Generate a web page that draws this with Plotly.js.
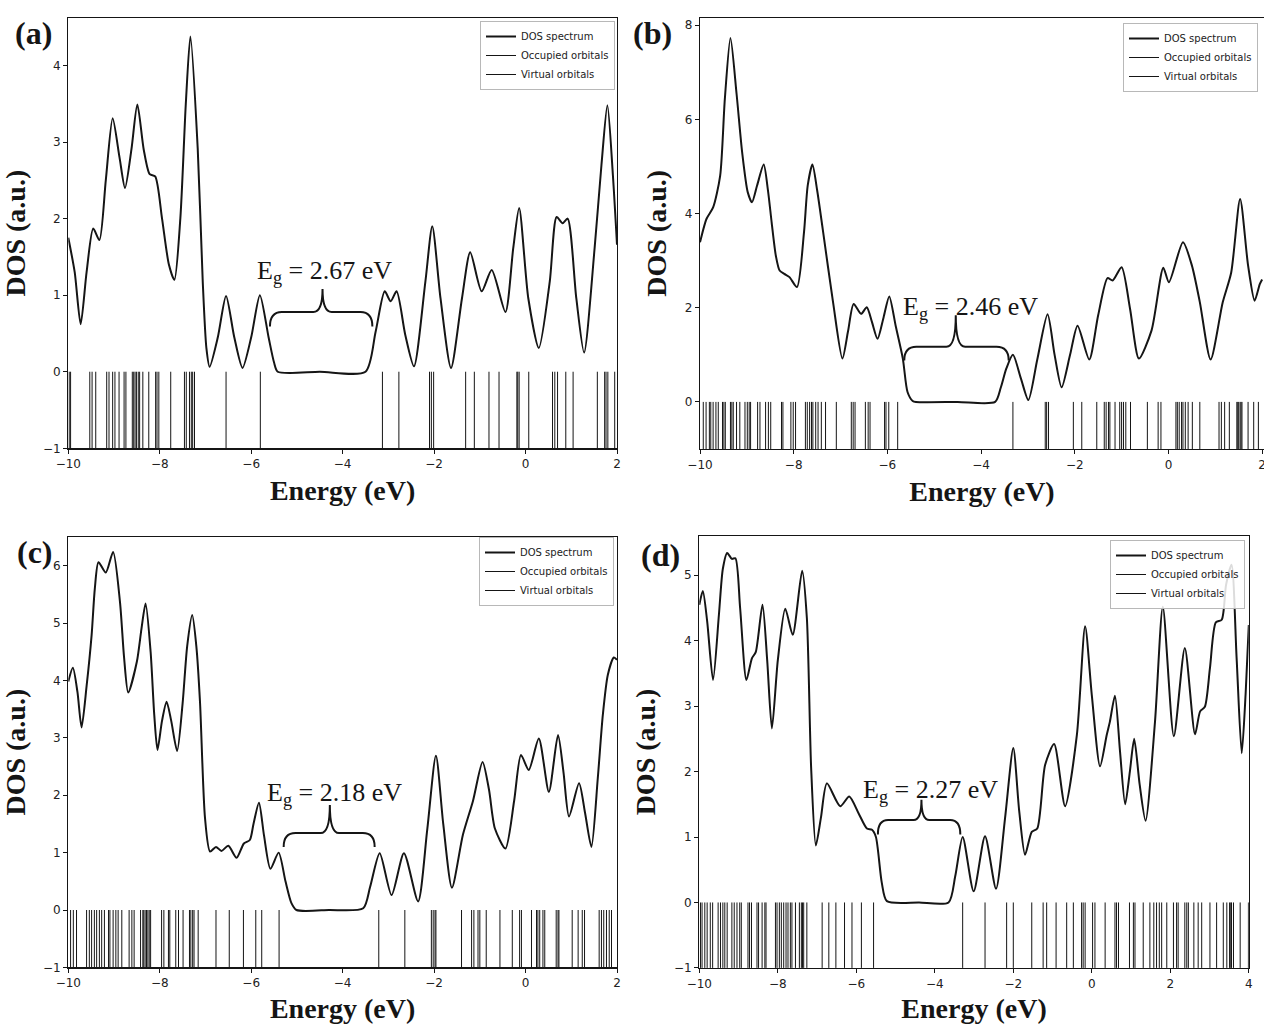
<!DOCTYPE html>
<html><head><meta charset="utf-8">
<script src="https://cdn.plot.ly/plotly-3.0.1.min.js"></script>
<style>html,body{margin:0;padding:0;background:#fff}#chart{width:1264px;height:1024px}</style>
</head><body><div id="chart"></div>
<script>
// ---------- DATA ----------
// Panel (a)
const dosA_E = [-10,-9.86,-9.73,-9.6,-9.455,-9.32,-9.18,-9.03,-8.88,-8.76,-8.62,-8.49,-8.35,-8.22,-8.10,-7.95,-7.80,-7.68,-7.55,-7.43,-7.33,-7.17,-7.06,-6.98,-6.91,-6.73,-6.55,-6.37,-6.19,-6.0,-5.81,-5.62,-5.5,-5.42,-4.5,-3.5,-3.28,-3.08,-2.95,-2.82,-2.63,-2.44,-2.19,-2.04,-1.86,-1.63,-1.39,-1.21,-0.96,-0.74,-0.44,-0.27,-0.14,0.06,0.29,0.53,0.68,0.81,0.92,1.11,1.28,1.51,1.66,1.79,1.91,2.0];
const dosA_D = [1.75,1.3,0.62,1.3,1.87,1.72,2.5,3.31,2.8,2.40,2.9,3.49,2.9,2.58,2.55,2.0,1.4,1.20,2.0,3.5,4.38,2.92,1.18,0.31,0.065,0.45,0.99,0.45,0.05,0.45,1.0,0.45,0.12,0.0,0.0,0.0,0.52,1.05,0.92,1.05,0.48,0.07,1.18,1.90,0.96,0.05,0.96,1.56,1.05,1.33,0.78,1.61,2.14,0.96,0.31,1.18,2.02,1.94,2.0,0.96,0.25,1.61,2.70,3.48,2.57,1.66];
const occA = [-9.98,-9.95,-9.53,-9.48,-9.40,-9.16,-9.11,-9.03,-8.98,-8.89,-8.78,-8.74,-8.60,-8.57,-8.54,-8.51,-8.47,-8.44,-8.37,-8.24,-8.09,-8.06,-8.02,-7.76,-7.46,-7.42,-7.35,-7.31,-7.28,-7.24,-6.55,-5.80];
const virA = [-3.13,-2.77,-2.10,-2.06,-2.01,-1.31,-1.12,-0.80,-0.58,-0.19,-0.17,-0.14,0.07,0.59,0.64,0.70,0.88,1.04,1.57,1.73,1.76,1.80,1.95];

// Panel (b)
const dosB_E = [-10,-9.86,-9.72,-9.57,-9.47,-9.35,-9.22,-9.1,-8.98,-8.89,-8.78,-8.64,-8.55,-8.47,-8.38,-8.30,-8.2,-8.09,-7.93,-7.78,-7.70,-7.60,-7.50,-7.38,-7.16,-6.96,-6.84,-6.72,-6.56,-6.44,-6.33,-6.21,-6.08,-5.96,-5.82,-5.67,-5.57,-5.46,-5.39,-4.5,-3.70,-3.58,-3.46,-3.32,-3.15,-2.99,-2.8,-2.58,-2.43,-2.28,-2.1,-1.94,-1.69,-1.50,-1.30,-1.19,-1.0,-0.82,-0.63,-0.36,-0.11,0.01,0.31,0.5,0.67,0.90,1.16,1.34,1.53,1.70,1.84,1.95,2.0];
const dosB_D = [3.39,3.89,4.13,4.80,6.43,7.73,6.55,5.3,4.45,4.24,4.6,5.04,4.5,3.81,3.1,2.79,2.72,2.65,2.44,3.6,4.6,5.04,4.5,3.67,2.12,0.92,1.5,2.08,1.87,2.01,1.7,1.34,1.8,2.24,1.6,0.92,0.21,0.02,0.0,0.0,0.0,0.3,0.71,1.0,0.5,0.04,0.9,1.86,1.0,0.31,1.0,1.62,0.90,1.84,2.63,2.58,2.86,1.98,0.92,1.52,2.85,2.54,3.39,2.9,2.12,0.90,2.12,2.75,4.31,2.90,2.15,2.5,2.6];
const occB = [-9.93,-9.87,-9.80,-9.77,-9.72,-9.66,-9.61,-9.52,-9.49,-9.46,-9.35,-9.32,-9.29,-9.22,-9.15,-9.04,-8.99,-8.95,-8.92,-8.77,-8.72,-8.60,-8.54,-8.49,-8.26,-8.23,-8.06,-8.01,-7.96,-7.75,-7.71,-7.66,-7.62,-7.59,-7.53,-7.48,-7.41,-7.32,-7.09,-6.77,-6.73,-6.69,-6.47,-6.41,-6.37,-6.06,-6.03,-5.97,-5.78];
const virB = [-3.32,-2.63,-2.60,-2.56,-2.03,-1.85,-1.53,-1.37,-1.33,-1.28,-1.25,-1.14,-1.04,-1.00,-0.96,-0.91,-0.81,-0.45,-0.22,-0.16,0.16,0.19,0.23,0.28,0.31,0.36,0.42,0.51,0.67,1.08,1.13,1.20,1.30,1.46,1.48,1.50,1.53,1.55,1.57,1.70,1.82,1.92];

// Panel (c)
const dosC_E = [-10,-9.90,-9.80,-9.71,-9.60,-9.49,-9.42,-9.34,-9.18,-9.02,-8.87,-8.78,-8.69,-8.50,-8.40,-8.31,-8.20,-8.12,-8.05,-7.95,-7.85,-7.75,-7.62,-7.50,-7.40,-7.29,-7.20,-7.12,-7.01,-6.90,-6.77,-6.65,-6.50,-6.32,-6.16,-6.03,-5.95,-5.83,-5.72,-5.58,-5.40,-5.25,-5.12,-5.01,-4.3,-3.55,-3.40,-3.19,-2.93,-2.66,-2.35,-2.15,-1.96,-1.80,-1.61,-1.37,-1.15,-0.94,-0.80,-0.67,-0.44,-0.25,-0.10,0.07,0.29,0.51,0.71,0.83,0.95,1.17,1.30,1.44,1.58,1.69,1.80,1.93,2.0];
const dosC_D = [3.98,4.22,3.8,3.18,3.9,4.79,5.6,6.06,5.88,6.24,5.37,4.4,3.79,4.33,4.9,5.34,4.5,3.4,2.79,3.3,3.63,3.3,2.77,3.6,4.6,5.14,4.6,3.63,1.60,1.02,1.10,1.03,1.12,0.91,1.16,1.22,1.5,1.87,1.3,0.72,1.0,0.5,0.12,0.0,0.0,0.03,0.4,0.99,0.26,0.99,0.15,1.4,2.69,1.5,0.39,1.31,1.9,2.58,2.1,1.42,1.07,1.9,2.70,2.44,2.99,2.06,3.05,2.4,1.63,2.21,1.7,1.10,2.3,3.40,4.1,4.40,4.36];
const occC = [-9.95,-9.89,-9.82,-9.60,-9.54,-9.49,-9.43,-9.38,-9.32,-9.27,-9.21,-9.12,-9.09,-9.02,-8.96,-8.91,-8.83,-8.67,-8.61,-8.56,-8.42,-8.37,-8.35,-8.32,-8.29,-8.26,-8.23,-8.20,-7.96,-7.91,-7.81,-7.78,-7.65,-7.59,-7.49,-7.35,-7.32,-7.28,-7.25,-7.16,-6.77,-6.48,-6.17,-5.90,-5.77,-5.39];
const virC = [-3.21,-2.64,-2.06,-2.02,-1.98,-1.96,-1.40,-1.18,-1.13,-1.04,-1.00,-0.86,-0.56,-0.29,-0.13,-0.09,0.13,0.24,0.27,0.31,0.38,0.42,0.67,0.71,0.73,1.02,1.15,1.24,1.29,1.61,1.66,1.71,1.77,1.83,1.88];

// Panel (d)
const dosD_E = [-10,-9.91,-9.80,-9.65,-9.50,-9.40,-9.29,-9.17,-9.08,-8.96,-8.80,-8.66,-8.56,-8.39,-8.27,-8.15,-8.00,-7.81,-7.62,-7.38,-7.26,-7.15,-7.03,-6.90,-6.75,-6.41,-6.18,-5.94,-5.73,-5.60,-5.50,-5.35,-5.22,-4.4,-3.65,-3.48,-3.29,-3.01,-2.72,-2.44,-2.21,-2.0,-1.85,-1.70,-1.53,-1.39,-1.19,-0.96,-0.68,-0.38,-0.17,0.0,0.21,0.38,0.46,0.59,0.72,0.85,0.97,1.08,1.22,1.37,1.61,1.81,2.09,2.37,2.63,2.76,2.88,3.01,3.16,3.31,3.42,3.56,3.69,3.82,3.92,4.0];
const dosD_D = [4.55,4.76,4.3,3.40,4.4,5.1,5.34,5.25,5.26,4.50,3.40,3.73,3.83,4.55,3.7,2.66,3.7,4.49,4.09,5.07,4.35,2.05,0.87,1.3,1.82,1.47,1.62,1.36,1.13,1.11,1.0,0.3,0.02,0.0,0.0,0.4,1.0,0.17,1.01,0.21,1.29,2.36,1.4,0.73,1.08,1.13,2.10,2.42,1.47,2.56,4.22,3.17,2.08,2.56,2.76,3.16,2.3,1.50,2.0,2.50,1.8,1.25,2.76,4.52,2.54,3.89,2.57,2.92,2.99,3.58,4.28,4.32,4.85,5.16,3.73,2.28,3.2,4.24];
const occD = [-9.97,-9.93,-9.86,-9.80,-9.72,-9.66,-9.52,-9.46,-9.40,-9.35,-9.29,-9.17,-9.11,-9.04,-8.97,-8.93,-8.76,-8.72,-8.67,-8.53,-8.49,-8.40,-8.33,-8.30,-8.06,-8.02,-7.96,-7.91,-7.85,-7.79,-7.74,-7.68,-7.64,-7.55,-7.45,-7.40,-7.37,-7.34,-7.26,-6.87,-6.70,-6.52,-6.30,-6.11,-5.87,-5.56];
const virD = [-3.29,-2.72,-2.17,-2.00,-1.53,-1.24,-1.15,-0.91,-0.64,-0.47,-0.26,-0.22,-0.17,0.02,0.08,0.34,0.59,0.63,0.68,0.96,1.06,1.10,1.31,1.48,1.58,1.65,1.72,1.78,1.91,2.08,2.16,2.20,2.37,2.42,2.46,2.60,2.71,2.80,3.01,3.18,3.35,3.44,3.51,3.54,3.56,3.61,3.78,3.99];

const panelLabels = ['(a)','(b)','(c)','(d)'];
const gapValues = ['2.67','2.46','2.18','2.27'];
const seriesNames = ['DOS spectrum','Occupied orbitals','Virtual orbitals'];
const xTickVals = [[-10,-8,-6,-4,-2,0,2],[-10,-8,-6,-4,-2,0,2],[-10,-8,-6,-4,-2,0,2],[-10,-8,-6,-4,-2,0,2,4]];
const yTickVals = [[-1,0,1,2,3,4],[0,2,4,6,8],[-1,0,1,2,3,4,5,6],[-1,0,1,2,3,4,5]];

// ---------- LAYOUT CONFIG (positions / styles) ----------
const W = 1264, H = 1024;
const px = v => v / W, py = v => 1 - v / H;
const panels = [
  {dosE:dosA_E, dosD:dosA_D, occ:occA, vir:virA, xr:[-10,2], yr:[-1,4.62], xpx:[68.3,617], ypx:[18,448.3],
   leg:[615,21], lab:[33,33], brace:{L:-5.59,R:-3.35,M:-4.44,end:0.59,bar:0.78,tip:1.08}, txt:[-4.40,1.30]},
  {dosE:dosB_E, dosD:dosB_D, occ:occB, vir:virB, xr:[-10,2.04], yr:[-1,8.16], xpx:[700,1264], ypx:[17.7,449],
   leg:[1258,23], lab:[652,33], brace:{L:-5.64,R:-3.41,M:-4.54,end:0.88,bar:1.17,tip:1.84}, txt:[-4.22,2.0]},
  {dosE:dosC_E, dosD:dosC_D, occ:occC, vir:virC, xr:[-10,2], yr:[-1,6.5], xpx:[68.3,617], ypx:[537,967.4],
   leg:[614,537], lab:[35,552], brace:{L:-5.29,R:-3.30,M:-4.28,end:1.10,bar:1.34,tip:1.83}, txt:[-4.18,2.03]},
  {dosE:dosD_E, dosD:dosD_D, occ:occD, vir:virD, xr:[-10,4], yr:[-1,5.6], xpx:[699.3,1248.8], ypx:[536,967.9],
   leg:[1245,540], lab:[660,555], brace:{L:-5.45,R:-3.35,M:-4.34,end:1.04,bar:1.26,tip:1.57}, txt:[-4.11,1.70]}
];

const INK = '#151515';
const serif = 'Liberation Serif, Times New Roman, serif';
const sans = 'DejaVu Sans, sans-serif';

function sticks(energies) {
  const x = [], y = [];
  energies.forEach(e => { x.push(e, e, null); y.push(-1, 0, null); });
  return {x, y};
}

const data = [];
const layout = {
  width: W, height: H, margin:{l:0,r:0,t:0,b:0},
  paper_bgcolor:'#fff', plot_bgcolor:'#fff', showlegend:true,
  annotations: [], shapes: []
};

panels.forEach((p, i) => {
  const n = i === 0 ? '' : String(i + 1);
  const xa = 'x' + n, ya = 'y' + n, lg = 'legend' + n;
  data.push({type:'scatter', mode:'lines', x:p.dosE, y:p.dosD, xaxis:xa, yaxis:ya, legend:lg,
    name:seriesNames[0], line:{color:INK, width:2, shape:'spline', smoothing:0.7}, hoverinfo:'skip'});
  const so = sticks(p.occ), sv = sticks(p.vir);
  data.push({type:'scatter', mode:'lines', x:so.x, y:so.y, xaxis:xa, yaxis:ya, legend:lg,
    name:seriesNames[1], line:{color:INK, width:1}, connectgaps:false, hoverinfo:'skip'});
  data.push({type:'scatter', mode:'lines', x:sv.x, y:sv.y, xaxis:xa, yaxis:ya, legend:lg,
    name:seriesNames[2], line:{color:INK, width:1}, connectgaps:false, hoverinfo:'skip'});

  const common = {showline:true, mirror:true, linecolor:INK, linewidth:1.2, ticks:'outside', ticklen:4,
    tickwidth:1, tickcolor:INK, showgrid:false, zeroline:false, fixedrange:true,
    tickfont:{family:sans, size:12, color:'#222'}};
  layout['xaxis' + n] = Object.assign({}, common, {
    domain:[px(p.xpx[0]), Math.min(1, px(p.xpx[1]))], range:p.xr, anchor:ya, tickvals:xTickVals[i],
    ticklabeloverflow:'allow',
    title:{text:'Energy (eV)', font:{family:serif, size:28, weight:'bold', color:INK}, standoff:10}
  });
  layout['yaxis' + n] = Object.assign({}, common, {
    domain:[py(p.ypx[1]), py(p.ypx[0])], range:p.yr, anchor:xa, tickvals:yTickVals[i],
    title:{text:'DOS (a.u.)', font:{family:serif, size:28, weight:'bold', color:INK}, standoff:10}
  });
  layout[lg] = {x:px(p.leg[0]), y:py(p.leg[1]), xanchor:'right', yanchor:'top',
    bgcolor:'rgba(255,255,255,0.85)', bordercolor:'#b8b8b8', borderwidth:1,
    font:{family:sans, size:10, color:'#222'}, itemwidth:30, tracegroupgap:0};

  layout.annotations.push({xref:'paper', yref:'paper', x:px(p.lab[0]), y:py(p.lab[1]), xanchor:'center', yanchor:'middle',
    text:panelLabels[i], showarrow:false, font:{family:serif, size:32, weight:'bold', color:INK}});
  layout.annotations.push({xref:xa, yref:ya, x:p.txt[0], y:p.txt[1], xanchor:'center', yanchor:'middle',
    text:'E<sub>g</sub> = ' + gapValues[i] + ' eV', showarrow:false, font:{family:serif, size:26, color:INK}});

  const b = p.brace, r = 0.26, r2 = 0.2;
  const path = `M ${b.L},${b.end} Q ${b.L},${b.bar} ${b.L + r},${b.bar} L ${b.M - r2},${b.bar} ` +
    `Q ${b.M},${b.bar} ${b.M},${b.tip} Q ${b.M},${b.bar} ${b.M + r2},${b.bar} L ${b.R - r},${b.bar} ` +
    `Q ${b.R},${b.bar} ${b.R},${b.end}`;
  layout.shapes.push({type:'path', xref:xa, yref:ya, path:path, line:{color:INK, width:2}});
});

Plotly.newPlot('chart', data, layout, {staticPlot:true, displayModeBar:false});
</script>
</body></html>
